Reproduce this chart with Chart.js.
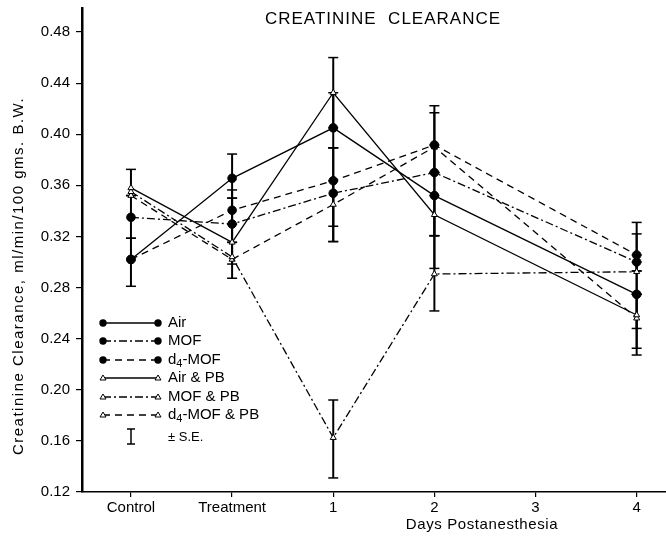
<!DOCTYPE html>
<html><head><meta charset="utf-8">
<script src="https://cdn.jsdelivr.net/npm/chart.js@4/dist/chart.umd.min.js"></script>
<style>html,body{margin:0;padding:0;background:#fff}#wrap{width:666px;height:537px;position:relative}</style>
</head><body><div id="wrap"><canvas id="c"></canvas></div>
<script>
// ---- data ----
const categories = ['Control', 'Treatment', '1', '2', '3', '4'];
const yTickValues = [0.12, 0.16, 0.20, 0.24, 0.28, 0.32, 0.36, 0.40, 0.44, 0.48];

const air     = [0.302, 0.3655, 0.405, 0.352, null, 0.2747];
const mof     = [0.335, 0.3297, 0.3538, 0.370, null, 0.300];
const d4mof   = [0.302, 0.3405, 0.3636, 0.3916, null, 0.3055];
const airPB   = [0.358, 0.3154, 0.4325, 0.337, null, 0.2585];
const mofPB   = [0.355, 0.304, 0.1625, 0.2906, null, 0.2924];
const d4mofPB = [0.352, 0.302, 0.345, 0.390, null, 0.256];

// standard-error bar ends (lower / upper) per series
const airLo     = [0.281, 0.350, 0.3894, 0.3206, null, 0.248];
const airHi     = [0.3186, 0.3845, 0.4325, 0.370, null, 0.300];
const mofLo     = [0.3186, 0.3154, 0.316, 0.3206, null, 0.293];
const mofHi     = [0.352, 0.350, 0.3894, 0.3916, null, 0.322];
const d4mofLo   = [null, 0.3297, 0.328, 0.370, null, 0.293];
const d4mofHi   = [null, 0.3564, 0.3894, 0.4223, null, 0.331];
const airPBLo   = [0.352, 0.2984, 0.405, 0.295, null, 0.2325];
const airPBHi   = [0.3725, 0.3297, 0.460, 0.352, null, 0.2747];
const mofPBLo   = [null, 0.2873, 0.131, 0.2617, null, 0.2747];
const mofPBHi   = [null, 0.3154, 0.192, 0.3206, null, 0.3055];
const d4mofPBLo = [null, null, 0.316, 0.370, null, 0.2272];
const d4mofPBHi = [null, null, 0.3636, 0.4168, null, 0.2747];

const seriesNames = ['Air', 'MOF', 'd4-MOF', 'Air & PB', 'MOF & PB', 'd4-MOF & PB'];
// ---------------------------------------

const FONT = "'Liberation Sans', Arial, Helvetica, sans-serif";
const DASH_DOT = [8, 3, 2, 3];
const DASHED = [7, 5];
const styles = [
  {dash: [], filled: true}, {dash: DASH_DOT, filled: true}, {dash: DASHED, filled: true},
  {dash: [], filled: false}, {dash: DASH_DOT, filled: false}, {dash: DASHED, filled: false}
];
const values = [air, mof, d4mof, airPB, mofPB, d4mofPB];
const lows = [airLo, mofLo, d4mofLo, airPBLo, mofPBLo, d4mofPBLo];
const highs = [airHi, mofHi, d4mofHi, airPBHi, mofPBHi, d4mofPBHi];

function pts(arr) {
  return arr.map((v, i) => v == null ? null : {x: i, y: v}).filter(p => p);
}

const datasets = values.map((arr, k) => ({
  label: seriesNames[k],
  data: pts(arr),
  borderColor: '#000',
  borderWidth: 1.3,
  borderDash: styles[k].dash,
  backgroundColor: styles[k].filled ? '#000' : '#fff',
  pointBackgroundColor: styles[k].filled ? '#000' : '#fff',
  pointBorderColor: '#000',
  pointBorderWidth: 1,
  pointStyle: styles[k].filled ? 'circle' : 'triangle',
  pointRadius: styles[k].filled ? 4.3 : 3.5,
  tension: 0,
  fill: false
}));

function line(ctx, x1, y1, x2, y2) {
  ctx.beginPath(); ctx.moveTo(x1, y1); ctx.lineTo(x2, y2); ctx.stroke();
}

const errPlugin = {
  id: 'errbars',
  beforeDatasetsDraw(chart) {
    const {ctx, scales: {x, y}} = chart;
    ctx.save();
    ctx.strokeStyle = '#000';
    ctx.setLineDash([]);
    lows.forEach((lo, k) => {
      lo.forEach((l, i) => {
        const h = highs[k][i];
        if (l == null || h == null) return;
        const px = x.getPixelForValue(i);
        const p1 = y.getPixelForValue(l), p2 = y.getPixelForValue(h);
        ctx.lineWidth = 2; line(ctx, px, p1, px, p2);
        ctx.lineWidth = 1.5; line(ctx, px - 5, p1, px + 5, p1); line(ctx, px - 5, p2, px + 5, p2);
      });
    });
    ctx.restore();
  }
};

function drawMarker(ctx, x, y, filled) {
  ctx.save();
  ctx.setLineDash([]);
  ctx.lineWidth = 1;
  ctx.strokeStyle = '#000';
  if (filled) {
    ctx.fillStyle = '#000';
    ctx.beginPath(); ctx.arc(x, y, 3.7, 0, Math.PI * 2); ctx.fill();
  } else {
    ctx.fillStyle = '#fff';
    ctx.beginPath(); ctx.moveTo(x, y - 3); ctx.lineTo(x + 3, y + 2); ctx.lineTo(x - 3, y + 2); ctx.closePath();
    ctx.fill(); ctx.stroke();
  }
  ctx.restore();
}

function drawLabel(ctx, text, x, y) {
  ctx.textBaseline = 'middle';
  ctx.textAlign = 'left';
  if (text.startsWith('d4')) {
    ctx.font = '15px ' + FONT;
    ctx.fillText('d', x, y);
    let w = ctx.measureText('d').width;
    ctx.font = '11px ' + FONT;
    ctx.fillText('4', x + w, y + 4);
    w += ctx.measureText('4').width;
    ctx.font = '15px ' + FONT;
    ctx.fillText(text.slice(2), x + w, y);
  } else {
    ctx.font = '15px ' + FONT;
    ctx.fillText(text, x, y);
  }
}

const textPlugin = {
  id: 'texts',
  afterDraw(chart) {
    const {ctx, chartArea: a} = chart;
    ctx.save();
    ctx.fillStyle = '#000';
    const hasLS = ('letterSpacing' in ctx);
    // title
    ctx.font = '17px ' + FONT;
    ctx.textAlign = 'center';
    ctx.textBaseline = 'middle';
    if (hasLS) ctx.letterSpacing = '1px';
    ctx.fillText('CREATININE  CLEARANCE', a.left + 301, 19);
    // x axis title
    if (hasLS) ctx.letterSpacing = '0.6px';
    ctx.font = '15px ' + FONT;
    ctx.fillText('Days Postanesthesia', a.left + 400, 525);
    // y axis title
    ctx.save();
    ctx.translate(19, 276);
    ctx.rotate(-Math.PI / 2);
    if (hasLS) ctx.letterSpacing = '1.5px';
    ctx.font = '15px ' + FONT;
    ctx.fillText('Creatinine Clearance, ml/min/100 gms. B.W.', 0, 0);
    ctx.restore();
    if (hasLS) ctx.letterSpacing = '0px';
    // legend
    const lx1 = a.left + 21, lx2 = a.left + 76, tx = a.left + 86;
    const ys = [323, 341, 360, 378, 397, 415];
    ys.forEach((yy, k) => {
      ctx.save();
      ctx.strokeStyle = '#000';
      ctx.lineWidth = 1.3;
      ctx.setLineDash(styles[k].dash);
      line(ctx, lx1, yy, lx2, yy);
      ctx.restore();
      drawMarker(ctx, lx1, yy, styles[k].filled);
      drawMarker(ctx, lx2, yy, styles[k].filled);
      drawLabel(ctx, seriesNames[k], tx, yy);
    });
    // S.E. symbol
    ctx.save();
    ctx.strokeStyle = '#000';
    ctx.setLineDash([]);
    ctx.lineWidth = 1.5;
    const sx = a.left + 49;
    line(ctx, sx, 429, sx, 444);
    line(ctx, sx - 4, 429, sx + 4, 429);
    line(ctx, sx - 4, 444, sx + 4, 444);
    ctx.restore();
    ctx.font = '13px ' + FONT;
    ctx.textAlign = 'left';
    ctx.fillText('\u00B1 S.E.', tx, 437);
    ctx.restore();
  }
};

new Chart(document.getElementById('c'), {
  type: 'line',
  data: {datasets},
  options: {
    responsive: true,
    maintainAspectRatio: false,
    devicePixelRatio: 1,
    animation: false,
    spanGaps: true,
    layout: {autoPadding: false, padding: {top: 8, right: 0, left: 0, bottom: 0}},
    plugins: {legend: {display: false}, tooltip: {enabled: false}, title: {display: false}},
    scales: {
      x: {
        type: 'linear',
        min: -0.484,
        max: 5.29,
        afterBuildTicks: s => { s.ticks = categories.map((c, i) => ({value: i})); },
        afterFit: s => { s.height = 45; s.paddingLeft = 0; s.paddingRight = 0; },
        ticks: {
          callback: v => categories[v],
          color: '#000',
          font: {family: FONT, size: 15},
          padding: 2,
          maxRotation: 0,
          autoSkip: false
        },
        grid: {display: true, drawOnChartArea: false, drawTicks: true, tickLength: 5, color: '#000', lineWidth: 1.2},
        border: {display: true, color: '#000', width: 1.6}
      },
      y: {
        min: 0.12,
        max: 0.4988,
        afterBuildTicks: s => { s.ticks = yTickValues.map(v => ({value: v})); },
        afterFit: s => { s.width = 82; s.paddingTop = 0; s.paddingBottom = 0; },
        ticks: {
          callback: v => v.toFixed(2),
          color: '#000',
          font: {family: FONT, size: 15},
          padding: 6
        },
        grid: {display: true, drawOnChartArea: false, drawTicks: true, tickLength: 6, color: '#000', lineWidth: 1.2},
        border: {display: true, color: '#000', width: 2.5}
      }
    }
  },
  plugins: [errPlugin, textPlugin]
});
</script>
</body></html>
